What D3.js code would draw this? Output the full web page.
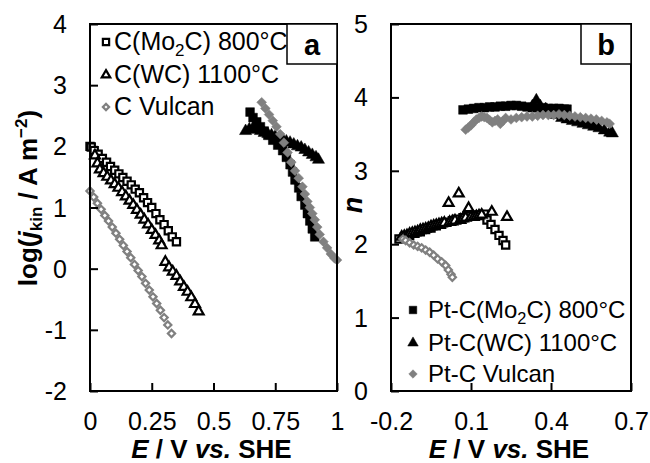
<!DOCTYPE html>
<html>
<head>
<meta charset="utf-8">
<script src="https://d3js.org/d3.v7.min.js"></script>
<style>
  body { margin: 0; background: #fff; }
  text { font-family: "Liberation Sans", Arial, sans-serif; fill: #000; }
</style>
</head>
<body>
<div id="chart"></div>
<script>
// ---- panel a : log(j_kin) vs E ----
// carbon supports (open markers)
let aCMo2C = [[0,2.00],[0.005,1.99],[0.017,1.93],[0.033,1.87],[0.05,1.80],[0.067,1.74],[0.083,1.67],[0.10,1.61],[0.117,1.55],[0.133,1.49],[0.15,1.43],[0.167,1.37],[0.183,1.30],[0.20,1.24],[0.217,1.16],[0.233,1.08],[0.25,1.00],[0.267,0.90],[0.283,0.80],[0.30,0.72],[0.317,0.62],[0.333,0.52],[0.35,0.44]];
let aCWC = [[0.02,1.85],[0.03,1.72],[0.04,1.62],[0.055,1.56],[0.07,1.50],[0.085,1.44],[0.10,1.38],[0.115,1.32],[0.13,1.25],[0.145,1.18],[0.16,1.11],[0.175,1.04],[0.19,0.96],[0.205,0.88],[0.22,0.80],[0.235,0.72],[0.25,0.63],[0.265,0.55],[0.28,0.46],[0.29,0.38],
            [0.305,0.11],[0.32,0.02],[0.335,-0.05],[0.35,-0.12],[0.365,-0.21],[0.38,-0.30],[0.395,-0.38],[0.41,-0.47],[0.425,-0.58],[0.44,-0.70]];
let aCVulcan = [[0,1.27],[0.015,1.17],[0.03,1.07],[0.045,0.97],[0.06,0.87],[0.075,0.78],[0.09,0.68],[0.105,0.58],[0.12,0.48],[0.135,0.38],[0.15,0.28],[0.165,0.18],[0.18,0.07],[0.195,-0.03],[0.21,-0.13],[0.225,-0.24],[0.24,-0.35],[0.255,-0.46],[0.27,-0.57],[0.285,-0.68],[0.30,-0.80],[0.315,-0.92],[0.33,-1.06]];
// Pt catalysts (filled markers)
let aPtMo2C = [[0.648,2.56],[0.66,2.47],[0.675,2.40],[0.69,2.32],[0.705,2.25],[0.72,2.18],[0.74,2.10],[0.76,2.02],[0.78,1.93],[0.795,1.82],[0.81,1.70],[0.82,1.58],[0.83,1.45],[0.845,1.32],[0.855,1.18],[0.87,1.04],[0.88,0.90],[0.89,0.78],[0.90,0.65],[0.91,0.52]];
let aPtWC = [[0.63,2.25],[0.645,2.28],[0.66,2.30],[0.675,2.27],[0.69,2.25],[0.705,2.22],[0.72,2.20],[0.735,2.18],[0.75,2.16],[0.765,2.14],[0.78,2.11],[0.795,2.08],[0.81,2.06],[0.825,2.03],[0.84,2.00],[0.855,1.98],[0.87,1.94],[0.885,1.90],[0.90,1.86],[0.915,1.82],[0.925,1.78]];
let aPtVulcan = [[0.695,2.72],[0.71,2.62],[0.725,2.52],[0.74,2.42],[0.755,2.32],[0.77,2.20],[0.785,2.06],[0.80,1.90],[0.815,1.74],[0.83,1.60],[0.845,1.48],[0.86,1.34],[0.87,1.22],[0.88,1.10],[0.89,1.00],[0.90,0.90],[0.91,0.80],[0.92,0.68],[0.93,0.56],[0.945,0.44],[0.96,0.34],[0.975,0.24],[0.99,0.17],[1.0,0.14]];

// ---- panel b : n vs E ----
let bCMo2C = [[-0.17,2.07],[-0.15,2.10],[-0.13,2.12],[-0.11,2.15],[-0.09,2.17],[-0.07,2.20],[-0.05,2.22],[-0.03,2.25],[-0.01,2.27],[0.01,2.30],[0.03,2.32],[0.05,2.34],[0.07,2.36],[0.09,2.38],[0.11,2.39],[0.13,2.40],[0.15,2.41],[0.16,2.33],[0.175,2.27],[0.19,2.20],[0.205,2.12],[0.22,2.05],[0.23,1.99]];
let bCWC = [[-0.16,2.10],[-0.15,2.11],[-0.14,2.12],[-0.13,2.14],[-0.12,2.15],[-0.11,2.16],[-0.10,2.17],[-0.09,2.19],[-0.08,2.20],[-0.07,2.21],[-0.06,2.22],[-0.05,2.24],[-0.04,2.25],[-0.03,2.26],[-0.02,2.27],[-0.01,2.28],[0.00,2.29],[0.016,2.56],[0.02,2.30],[0.03,2.31],[0.04,2.32],[0.054,2.69],[0.06,2.33],[0.07,2.35],[0.08,2.36],[0.091,2.49],[0.10,2.37],[0.11,2.37],[0.12,2.38],[0.13,2.39],[0.14,2.40],[0.178,2.44],[0.235,2.37]];
let bCVulcan = [[-0.155,2.07],[-0.145,2.05],[-0.13,2.02],[-0.115,1.99],[-0.10,1.97],[-0.085,1.95],[-0.07,1.92],[-0.055,1.89],[-0.04,1.85],[-0.025,1.80],[-0.01,1.76],[0.005,1.71],[0.015,1.65],[0.025,1.59],[0.03,1.55]];
let bPtMo2C = [[0.07,3.83],[0.09,3.84],[0.11,3.85],[0.13,3.86],[0.15,3.86],[0.17,3.87],[0.19,3.87],[0.21,3.88],[0.23,3.88],[0.25,3.89],[0.27,3.89],[0.29,3.88],[0.31,3.87],[0.33,3.86],[0.35,3.86],[0.37,3.86],[0.39,3.85],[0.41,3.85],[0.43,3.85],[0.45,3.84],[0.46,3.84]];
let bPtWC = [[0.33,3.88],[0.345,3.96],[0.36,3.88],[0.38,3.84],[0.40,3.80],[0.42,3.76],[0.44,3.72],[0.46,3.70],[0.48,3.68],[0.50,3.66],[0.52,3.64],[0.54,3.62],[0.56,3.60],[0.58,3.58],[0.60,3.55],[0.62,3.52],[0.63,3.51]];
let bPtVulcan = [[0.08,3.56],[0.09,3.59],[0.10,3.62],[0.11,3.66],[0.12,3.70],[0.13,3.72],[0.14,3.74],[0.15,3.73],[0.16,3.72],[0.17,3.69],[0.18,3.66],[0.19,3.68],[0.20,3.70],[0.21,3.64],[0.22,3.68],[0.23,3.72],[0.25,3.70],[0.27,3.72],[0.29,3.73],[0.31,3.74],[0.33,3.74],[0.35,3.75],[0.37,3.76],[0.39,3.76],[0.41,3.76],[0.43,3.77],[0.45,3.76],[0.47,3.75],[0.49,3.74],[0.51,3.73],[0.53,3.72],[0.55,3.71],[0.57,3.70],[0.59,3.68],[0.61,3.66],[0.62,3.64]];

let aXTicks = [0, 0.25, 0.5, 0.75, 1];
let aYTicks = [-2, -1, 0, 1, 2, 3, 4];
let bXTicks = [-0.2, 0.1, 0.4, 0.7];
let bYTicks = [0, 1, 2, 3, 4, 5];

let legendA = ["C(Mo|2|C) 800°C", "C(WC) 1100°C", "C Vulcan"];
let legendB = ["Pt-C(Mo|2|C) 800°C", "Pt-C(WC) 1100°C", "Pt-C Vulcan"];

let width = 650, height = 463;
let gray = "#808080";
let svg = d3.select("#chart").append("svg")
    .attr("width", width)
    .attr("height", height);

// marker styles
let styles = {
    sqOpen:  {type: d3.symbolSquare, size: 52, rot: 0, fill: "#fff", stroke: "#000", sw: 2.2},
    triOpen: {type: d3.symbolTriangle, size: 42, rot: 0, fill: "#fff", stroke: "#000", sw: 2.2},
    diaOpen: {type: d3.symbolSquare, size: 26, rot: 45, fill: "#fff", stroke: gray, sw: 2.2},
    sqFill:  {type: d3.symbolSquare, size: 76, rot: 0, fill: "#000", stroke: "#000", sw: 0.5},
    triFill: {type: d3.symbolTriangle, size: 64, rot: 0, fill: "#000", stroke: "#000", sw: 0.5},
    diaFill: {type: d3.symbolSquare, size: 48, rot: 45, fill: gray, stroke: gray, sw: 0.5}
};

function drawMarkers(g, data, x, y, st) {
    g.append("g").selectAll("path")
        .data(data)
        .join("path")
        .attr("d", d3.symbol().type(st.type).size(st.size))
        .attr("transform", d => `translate(${x(d[0])},${y(d[1])}) rotate(${st.rot})`)
        .attr("fill", st.fill)
        .attr("stroke", st.stroke)
        .attr("stroke-width", st.sw);
}

function addSubText(t, label, fs) {
    // label "A|2|B" -> A, subscript 2, B
    let parts = label.split("|");
    t.append("tspan").text(parts[0]);
    if (parts.length > 1) {
        t.append("tspan").attr("font-size", fs * 0.68).attr("dy", 6).text(parts[1]);
        t.append("tspan").attr("dy", -6).text(parts[2]);
    }
}

function panel(opt) {
    let x = d3.scaleLinear().domain(opt.xDom).range([opt.left, opt.right]);
    let y = d3.scaleLinear().domain(opt.yDom).range([opt.bottom, opt.top]);
    let g = svg.append("g");

    // series
    opt.series.forEach(s => drawMarkers(g, s.data, x, y, styles[s.style]));

    // axes (ticks pointing inward), plain hyphen for negatives
    let xAxis = d3.axisBottom(x).tickValues(opt.xTicks).tickFormat(d => String(d))
        .tickSizeInner(-8).tickSizeOuter(0).tickPadding(21);
    let yAxis = d3.axisLeft(y).tickValues(opt.yTicks).tickFormat(d => String(d))
        .tickSizeInner(-8).tickSizeOuter(0).tickPadding(23);
    let gx = g.append("g").attr("transform", `translate(0,${opt.bottom})`).call(xAxis);
    let gy = g.append("g").attr("transform", `translate(${opt.left},0)`).call(yAxis);
    [gx, gy].forEach(a => {
        a.select(".domain").remove();
        a.selectAll("line").attr("stroke", "#000").attr("stroke-width", 2);
        a.selectAll("text").attr("font-size", 25).attr("font-family", "Liberation Sans, Arial, sans-serif").attr("fill", "#000");
    });
    gy.selectAll("text").attr("dy", "0.34em");

    // frame
    g.append("rect")
        .attr("x", opt.left).attr("y", opt.top)
        .attr("width", opt.right - opt.left).attr("height", opt.bottom - opt.top)
        .attr("fill", "none").attr("stroke", "#000").attr("stroke-width", 2);

    // panel letter box
    g.append("rect")
        .attr("x", opt.right - 50).attr("y", opt.top)
        .attr("width", 50).attr("height", 40)
        .attr("fill", "#fff").attr("stroke", "#000").attr("stroke-width", 1.5);
    g.append("text")
        .attr("x", opt.right - 25).attr("y", opt.top + 31)
        .attr("text-anchor", "middle")
        .attr("font-size", 29).attr("font-weight", "bold")
        .text(opt.letter);

    // legend
    opt.legend.labels.forEach((lab, i) => {
        let ly = opt.legend.y[i];
        let st = Object.assign({}, styles[opt.legend.styles[i]]);
        st.size = st.size * 0.75;
        g.append("path")
            .attr("d", d3.symbol().type(st.type).size(st.size))
            .attr("transform", `translate(${opt.legend.x},${ly}) rotate(${st.rot})`)
            .attr("fill", st.fill).attr("stroke", st.stroke).attr("stroke-width", st.sw);
        let t = g.append("text")
            .attr("x", opt.legend.x + opt.legend.dx).attr("y", ly + 8)
            .attr("font-size", opt.legend.fs);
        addSubText(t, lab, opt.legend.fs);
    });

    // x title: E / V vs. SHE
    let xt = g.append("text")
        .attr("x", (opt.left + opt.right) / 2 - 2).attr("y", 458)
        .attr("text-anchor", "middle")
        .attr("font-size", 26).attr("font-weight", "bold");
    xt.append("tspan").attr("font-style", "italic").text("E");
    xt.append("tspan").text(" / V ");
    xt.append("tspan").attr("font-style", "italic").text("vs.");
    xt.append("tspan").text(" SHE");
    return g;
}

panel({
    xDom: [0, 1], yDom: [-2, 4],
    left: 90, right: 337, top: 24, bottom: 391,
    xTicks: aXTicks, yTicks: aYTicks,
    letter: "a",
    series: [
        {data: aCMo2C, style: "sqOpen"},
        {data: aCWC, style: "triOpen"},
        {data: aCVulcan, style: "diaOpen"},
        {data: aPtMo2C, style: "sqFill"},
        {data: aPtWC, style: "triFill"},
        {data: aPtVulcan, style: "diaFill"}
    ],
    legend: {labels: legendA, styles: ["sqOpen", "triOpen", "diaOpen"], x: 106, dx: 8, fs: 25, y: [42, 75, 107]}
});

panel({
    xDom: [-0.2, 0.7], yDom: [0, 5],
    left: 391, right: 631, top: 24, bottom: 391,
    xTicks: bXTicks, yTicks: bYTicks,
    letter: "b",
    series: [
        {data: bCMo2C, style: "sqOpen"},
        {data: bCWC, style: "triOpen"},
        {data: bCVulcan, style: "diaOpen"},
        {data: bPtMo2C, style: "sqFill"},
        {data: bPtWC, style: "triFill"},
        {data: bPtVulcan, style: "diaFill"}
    ],
    legend: {labels: legendB, styles: ["sqFill", "triFill", "diaFill"], x: 413, dx: 15, fs: 24, y: [310, 343, 374]}
});

// y titles
let ya = svg.append("text")
    .attr("transform", "translate(37,198) rotate(-90)")
    .attr("text-anchor", "middle")
    .attr("font-size", 26).attr("font-weight", "bold");
ya.append("tspan").text("log(");
ya.append("tspan").attr("font-style", "italic").text("j");
ya.append("tspan").attr("font-size", 17).attr("dy", 5).text("kin");
ya.append("tspan").attr("dy", -5).text(" / A m");
ya.append("tspan").attr("font-size", 17).attr("dy", -10).text("\u22122");
ya.append("tspan").attr("dy", 10).text(")");

svg.append("text")
    .attr("transform", "translate(362,205) rotate(-90)")
    .attr("text-anchor", "middle")
    .attr("font-size", 27).attr("font-weight", "bold").attr("font-style", "italic")
    .text("n");
</script>
</body>
</html>
